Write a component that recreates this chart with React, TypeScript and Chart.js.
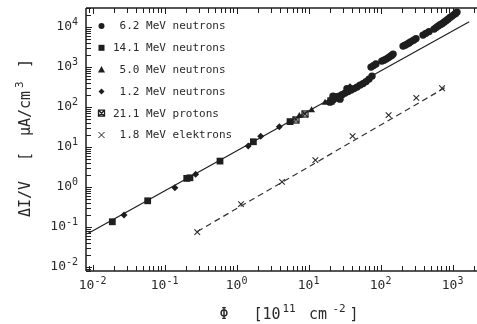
import { useEffect, useRef } from "react";
import { Chart, registerables } from "chart.js";

Chart.register(...registerables);

// ---------- data ----------
// 6.2 MeV neutrons (filled circles)
const N62_X = [19.8, 21.8, 24.0, 26.4, 29.1, 32.0, 35.3, 38.8, 42.7, 47.0, 51.8, 57.0, 62.7, 69.0, 76.0, 21.8, 27.3, 34.1,
  73.6, 79.5, 86,
  104, 111, 119, 127, 135, 142, 149,
  205, 218, 233, 248, 264, 287, 310,
  388, 425, 470,
  552, 588, 627, 670, 713, 760, 810, 862, 920, 980, 1045, 1100, 1150];
const N62_Y = [133, 150, 168, 188, 205, 224, 244, 266, 290, 316, 355, 387, 434, 501, 596, 188, 158, 290,
  1000, 1090, 1190,
  1410, 1490, 1585, 1700, 1830, 1960, 2110,
  3350, 3540, 3760, 4030, 4340, 4720, 5160,
  6310, 6980, 7720,
  8910, 9700, 10600, 11400, 12200, 13300, 14500, 15800, 17300, 18800, 20500, 22000, 23700];
// 14.1 MeV neutrons (filled squares)
const N141_X = [0.0188, 0.0582, 0.203, 0.225, 0.588, 1.71, 5.52];
const N141_Y = [0.136, 0.455, 1.65, 1.71, 4.47, 13.6, 43.4];
// 5.0 MeV neutrons (triangles)
const N50_X = [7.43, 11.0, 16.9, 29.1];
const N50_Y = [59.6, 84, 128, 200];
// 1.2 MeV neutrons (small diamonds)
const N12_X = [0.0273, 0.139, 0.27, 1.45, 2.16, 3.92, 37.6];
const N12_Y = [0.2, 0.96, 2.11, 10.6, 18.8, 32.2, 322];
// 21.1 MeV protons (boxed crosses)
const P211_X = [6.68, 8.9, 20.5, 25.6];
const P211_Y = [48.7, 66.8, 145, 183];
// 1.8 MeV electrons (crosses)
const E18_X = [0.284, 1.15, 4.27, 12.4, 40.8, 129, 313, 713];
const E18_Y = [0.075, 0.376, 1.35, 4.73, 18.8, 63, 170, 295];
// straight line through neutron data
const FIT_X = [0.0085, 1700];
const FIT_Y = [0.068, 13600];
// dashed line through electron data
const EFIT_X = [0.285, 830];
const EFIT_Y = [0.078, 325];

const X_DECADES = [-2, -1, 0, 1, 2, 3];
const Y_DECADES = [-2, -1, 0, 1, 2, 3, 4];
const LEGEND_LABELS = [
  " 6.2 MeV neutrons",
  "14.1 MeV neutrons",
  " 5.0 MeV neutrons",
  " 1.2 MeV neutrons",
  "21.1 MeV protons",
  " 1.8 MeV elektrons",
];
const LEGEND_MARKERS = ["circle", "square", "triangle", "diamond", "boxcross", "cross"];

const INK = "#1e1e1e";
const TEXT = "#2a2a2a";
const MONO = '"DejaVu Sans Mono", monospace';

const pts = (xs: number[], ys: number[]) => xs.map((x, i) => ({ x, y: ys[i] }));

function drawMarker(ctx: CanvasRenderingContext2D, kind: string, cx: number, cy: number) {
  ctx.save();
  ctx.fillStyle = INK;
  ctx.strokeStyle = INK;
  ctx.lineWidth = 1;
  ctx.beginPath();
  if (kind === "circle") {
    ctx.arc(cx, cy, 3, 0, Math.PI * 2);
    ctx.fill();
  } else if (kind === "square") {
    ctx.rect(cx - 3, cy - 3, 6, 6);
    ctx.fill();
  } else if (kind === "triangle") {
    ctx.moveTo(cx, cy - 3.5);
    ctx.lineTo(cx + 3.5, cy + 2.8);
    ctx.lineTo(cx - 3.5, cy + 2.8);
    ctx.closePath();
    ctx.fill();
  } else if (kind === "diamond") {
    ctx.moveTo(cx, cy - 3);
    ctx.lineTo(cx + 3, cy);
    ctx.lineTo(cx, cy + 3);
    ctx.lineTo(cx - 3, cy);
    ctx.closePath();
    ctx.fill();
  } else if (kind === "boxcross") {
    ctx.lineWidth = 1.3;
    ctx.rect(cx - 3, cy - 3, 6, 6);
    ctx.moveTo(cx - 3, cy - 3);
    ctx.lineTo(cx + 3, cy + 3);
    ctx.moveTo(cx + 3, cy - 3);
    ctx.lineTo(cx - 3, cy + 3);
    ctx.stroke();
  } else {
    ctx.moveTo(cx - 3, cy - 3);
    ctx.lineTo(cx + 3, cy + 3);
    ctx.moveTo(cx + 3, cy - 3);
    ctx.lineTo(cx - 3, cy + 3);
    ctx.stroke();
  }
  ctx.restore();
}

function strokeSeg(ctx: CanvasRenderingContext2D, x1: number, y1: number, x2: number, y2: number) {
  ctx.beginPath();
  ctx.moveTo(x1, y1);
  ctx.lineTo(x2, y2);
  ctx.stroke();
}

const framePlugin = {
  id: "frame",
  afterDraw(chart: any) {
    const { ctx, chartArea: a, scales } = chart;
    const xs = scales.x;
    const ys = scales.y;
    ctx.save();
    // frame: top, left and bottom axis lines (the right side runs past the visible page)
    ctx.strokeStyle = INK;
    ctx.lineWidth = 1.5;
    ctx.lineCap = "butt";
    strokeSeg(ctx, a.left, a.top, a.right, a.top);
    strokeSeg(ctx, a.left, a.top, a.left, a.bottom);
    strokeSeg(ctx, a.left, a.bottom, a.right, a.bottom);
    // inward ticks
    ctx.lineWidth = 1;
    ctx.beginPath();
    for (let e = -3; e <= 5; e++) {
      for (let m = 1; m <= 9; m++) {
        const v = m * Math.pow(10, e);
        const len = m === 1 ? 6 : 5;
        if (v >= xs.min && v <= xs.max) {
          const px = Math.round(xs.getPixelForValue(v)) + 0.5;
          ctx.moveTo(px, a.bottom);
          ctx.lineTo(px, a.bottom - len);
          ctx.moveTo(px, a.top);
          ctx.lineTo(px, a.top + len);
        }
        if (v >= ys.min && v <= ys.max) {
          const py = Math.round(ys.getPixelForValue(v)) + 0.5;
          ctx.moveTo(a.left, py);
          ctx.lineTo(a.left + len, py);
        }
      }
    }
    ctx.stroke();

    // tick labels
    ctx.fillStyle = TEXT;
    const bigFont = `13px ${MONO}`;
    const supFont = `10px ${MONO}`;
    ctx.textBaseline = "middle";
    ctx.textAlign = "left";
    for (const e of X_DECADES) {
      const px = xs.getPixelForValue(Math.pow(10, e));
      const exp = String(e);
      ctx.font = bigFont;
      const w1 = ctx.measureText("10").width;
      ctx.font = supFont;
      const w2 = ctx.measureText(exp).width;
      const start = px - (w1 + w2) / 2;
      ctx.font = bigFont;
      ctx.fillText("10", start, a.bottom + 15);
      ctx.font = supFont;
      ctx.fillText(exp, start + w1, a.bottom + 10);
    }
    for (const e of Y_DECADES) {
      const py = ys.getPixelForValue(Math.pow(10, e));
      const exp = String(e);
      ctx.font = supFont;
      const w2 = ctx.measureText(exp).width;
      const right = a.left - 8;
      ctx.fillText(exp, right - w2, py - 5);
      ctx.font = bigFont;
      const w1 = ctx.measureText("10").width;
      ctx.fillText("10", right - w2 - w1, py);
    }

    // x-axis title
    const tFont = `15px ${MONO}`;
    const tSup = `11px ${MONO}`;
    ctx.textAlign = "center";
    const ty = a.bottom + 44;
    ctx.font = tFont;
    ctx.fillText("Φ", 224, ty);
    ctx.fillText("[10", 267, ty);
    ctx.fillText("cm", 318, ty);
    ctx.fillText("]", 354, ty);
    ctx.font = tSup;
    ctx.fillText("11", 289, ty - 6);
    ctx.fillText("-2", 339, ty - 6);

    // y-axis title (rotated, reads bottom to top)
    ctx.save();
    ctx.translate(26, 217);
    ctx.rotate(-Math.PI / 2);
    ctx.textAlign = "left";
    ctx.font = tFont;
    ctx.fillText("ΔI/V", 0, 0);
    ctx.fillText("[", 56, 0);
    ctx.fillText("μA/cm", 81, 0);
    ctx.fillText("]", 149, 0);
    ctx.font = tSup;
    ctx.fillText("3", 129, -6);
    ctx.restore();

    // legend inside plot area
    ctx.font = `11px ${MONO}`;
    ctx.textAlign = "left";
    LEGEND_LABELS.forEach((lab, i) => {
      const cy = a.top + 18 + i * 21.8;
      drawMarker(ctx, LEGEND_MARKERS[i], a.left + 15.5, cy);
      ctx.fillStyle = TEXT;
      ctx.fillText(lab, a.left + 27, cy + 0.5);
    });
    ctx.restore();
  },
};

function makeProtonStyle(): HTMLCanvasElement {
  const c = document.createElement("canvas");
  c.width = 8;
  c.height = 8;
  const g = c.getContext("2d")!;
  g.strokeStyle = INK;
  g.lineWidth = 1.3;
  g.strokeRect(1, 1, 6, 6);
  g.beginPath();
  g.moveTo(1, 1);
  g.lineTo(7, 7);
  g.moveTo(7, 1);
  g.lineTo(1, 7);
  g.stroke();
  return c;
}

export default function App() {
  const ref = useRef<HTMLCanvasElement | null>(null);
  useEffect(() => {
    if (!ref.current) return;
    const protonStyle = makeProtonStyle();
    const chart = new Chart(ref.current, {
      type: "scatter",
      data: {
        datasets: [
          {
            label: "fit",
            data: pts(FIT_X, FIT_Y),
            showLine: true,
            pointRadius: 0,
            borderColor: INK,
            borderWidth: 1.2,
          },
          {
            label: "electron fit",
            data: pts(EFIT_X, EFIT_Y),
            showLine: true,
            pointRadius: 0,
            borderColor: "#333",
            borderWidth: 1.2,
            borderDash: [6, 4],
          },
          {
            label: "6.2 MeV neutrons",
            data: pts(N62_X, N62_Y),
            pointStyle: "circle",
            pointRadius: 3.7,
            backgroundColor: INK,
            borderColor: INK,
            borderWidth: 0,
          },
          {
            label: "14.1 MeV neutrons",
            data: pts(N141_X, N141_Y),
            pointStyle: "rect",
            pointRadius: 4.8,
            backgroundColor: INK,
            borderColor: INK,
            borderWidth: 0,
          },
          {
            label: "5.0 MeV neutrons",
            data: pts(N50_X, N50_Y),
            pointStyle: "triangle",
            pointRadius: 4,
            backgroundColor: INK,
            borderColor: INK,
            borderWidth: 0,
          },
          {
            label: "1.2 MeV neutrons",
            data: pts(N12_X, N12_Y),
            pointStyle: "rectRot",
            pointRadius: 3.5,
            backgroundColor: INK,
            borderColor: INK,
            borderWidth: 0,
          },
          {
            label: "21.1 MeV protons",
            data: pts(P211_X, P211_Y),
            pointStyle: protonStyle as any,
            pointRadius: 4,
            backgroundColor: INK,
            borderColor: INK,
          },
          {
            label: "1.8 MeV elektrons",
            data: pts(E18_X, E18_Y),
            pointStyle: "crossRot",
            pointRadius: 4,
            borderColor: "#2a2a2a",
            borderWidth: 1.1,
          },
        ],
      },
      options: {
        responsive: true,
        maintainAspectRatio: false,
        animation: false,
        events: [],
        layout: { autoPadding: false, padding: { left: 86, top: 8, right: 0, bottom: 53 } },
        plugins: {
          legend: { display: false },
          tooltip: { enabled: false },
        },
        scales: {
          x: {
            type: "logarithmic",
            min: 0.0081,
            max: 2400,
            ticks: { display: false },
            grid: { display: false, drawTicks: false },
            border: { display: false },
          },
          y: {
            type: "logarithmic",
            min: 0.008,
            max: 30000,
            ticks: { display: false },
            grid: { display: false, drawTicks: false },
            border: { display: false },
          },
        },
      },
      plugins: [framePlugin],
    });
    return () => chart.destroy();
  }, []);

  return (
    <div style={{ position: "fixed", left: 0, top: 0, width: 480, height: 324, background: "#fff" }}>
      <canvas ref={ref} />
    </div>
  );
}
